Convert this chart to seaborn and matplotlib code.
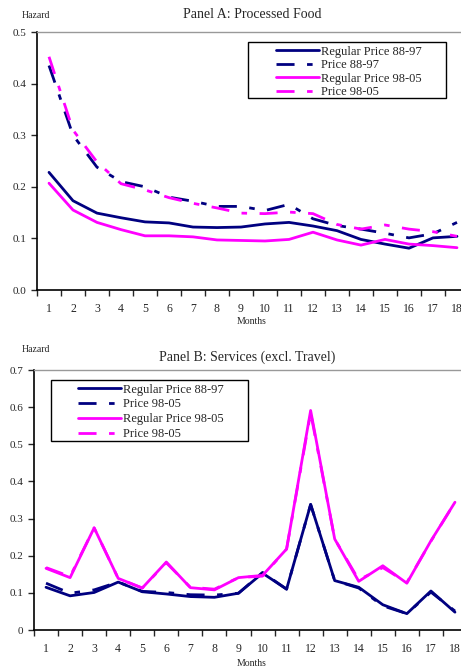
import numpy as np
import pandas as pd
import matplotlib
matplotlib.use("Agg")
import matplotlib.pyplot as plt
from matplotlib.patches import Rectangle
import seaborn as sns

months = list(range(1, 19))

# Panel A: Processed Food
a_reg_88 = [0.228, 0.173, 0.149, 0.140, 0.132, 0.130, 0.122, 0.121, 0.122,
            0.128, 0.131, 0.124, 0.115, 0.098, 0.089, 0.081, 0.101, 0.104]
a_price_88 = [0.435, 0.300, 0.238, 0.210, 0.200, 0.180, 0.172, 0.162, 0.162,
              0.154, 0.166, 0.138, 0.125, 0.118, 0.110, 0.101, 0.109, 0.131]
a_reg_98 = [0.207, 0.155, 0.131, 0.117, 0.105, 0.105, 0.103, 0.097, 0.096,
            0.095, 0.098, 0.112, 0.097, 0.087, 0.098, 0.089, 0.086, 0.082]
a_price_98 = [0.452, 0.310, 0.248, 0.206, 0.194, 0.179, 0.168, 0.159, 0.149,
              0.148, 0.151, 0.148, 0.127, 0.118, 0.126, 0.118, 0.113, 0.104]

# Panel B: Services (excl. Travel)
b_reg_88 = [0.115, 0.092, 0.101, 0.129, 0.103, 0.097, 0.090, 0.088, 0.099,
            0.153, 0.110, 0.338, 0.133, 0.115, 0.068, 0.044, 0.105, 0.048]
b_price_88 = [0.126, 0.099, 0.108, 0.129, 0.104, 0.101, 0.095, 0.094, 0.099,
              0.155, 0.110, 0.338, 0.133, 0.113, 0.065, 0.044, 0.102, 0.051]
b_reg_98 = [0.166, 0.141, 0.275, 0.139, 0.113, 0.183, 0.114, 0.108, 0.141,
            0.147, 0.218, 0.591, 0.245, 0.131, 0.173, 0.126, 0.240, 0.344]
b_price_98 = [0.168, 0.144, 0.275, 0.139, 0.113, 0.181, 0.115, 0.110, 0.141,
              0.145, 0.218, 0.585, 0.245, 0.135, 0.168, 0.128, 0.239, 0.344]

labels_a = ["Regular Price 88-97", "Price 88-97", "Regular Price 98-05", "Price 98-05"]
labels_b = ["Regular Price 88-97", "Price 98-05", "Regular Price 98-05", "Price 98-05"]

sns.set_style("white")
plt.rcParams['font.family'] = ['Liberation Serif', 'DejaVu Serif']

NAVY = "#000080"
MAG = "#FF00FF"
DASH = (6.5, 4.5, 2, 4.5)

fig = plt.figure(figsize=(4.61, 6.71), dpi=100)
W, H = 461, 671


def panel(rect, series, labels, ymax, yfmt, title, title_x, title_y,
          months_y, hazard_y, frame, leg_xy, leg_space):
    ax = fig.add_axes(rect)
    styles = [(NAVY, None), (NAVY, DASH), (MAG, None), (MAG, DASH)]
    for vals, lab, (c, d) in zip(series, labels, styles):
        df = pd.DataFrame({"month": months, "hazard": vals})
        sns.lineplot(data=df, x="month", y="hazard", ax=ax, color=c,
                     lw=2, label=lab, legend=False)
        if d is not None:
            ax.lines[-1].set_dashes(d)
    ax.set_xlim(0.5, 18.5)
    ax.set_ylim(0, ymax)
    ax.set_xticks(months)
    ax.set_xticklabels([str(m) for m in months], fontsize=8.5)
    ax.set_xticks(np.arange(0.5, 19, 1), minor=True)
    ax.tick_params(axis="x", which="major", length=0, pad=9)
    ax.tick_params(axis="x", which="minor", length=4, width=1, direction="out",
                   bottom=True)
    yt = np.arange(0, ymax + 1e-9, 0.1)
    ax.set_yticks(yt)
    ax.set_yticklabels([yfmt(v) for v in yt], fontsize=8)
    ax.tick_params(axis="y", length=4, width=1, direction="out", left=True)
    ax.set_xlabel("")
    ax.set_ylabel("")
    for s in ["left", "bottom"]:
        ax.spines[s].set_color("black")
        ax.spines[s].set_linewidth(1.2)
    ax.spines["top"].set_color("#999999")
    ax.spines["top"].set_linewidth(1)
    ax.spines["right"].set_visible(False)
    ax.grid(False)

    # legend text/handles without frame, frame drawn separately
    ax.legend(loc="upper left", bbox_to_anchor=(leg_xy[0] / W, 1 - leg_xy[1] / H),
              bbox_transform=fig.transFigure, fontsize=9, frameon=False,
              handlelength=3.45, handletextpad=0.15, borderpad=0,
              labelspacing=leg_space, borderaxespad=0)
    x0, y0, x1, y1 = frame
    fig.patches.append(Rectangle((x0 / W, 1 - y1 / H), (x1 - x0) / W,
                                 (y1 - y0) / H, transform=fig.transFigure,
                                 fill=False, edgecolor="black", lw=1,
                                 zorder=5))

    fig.text(title_x / W, 1 - title_y / H, title, ha="center", va="center",
             fontsize=10)
    fig.text(36 / W, 1 - hazard_y / H, "Hazard", ha="center", va="center",
             fontsize=7)
    fig.text(252 / W, 1 - months_y / H, "Months", ha="center", va="center",
             fontsize=7)
    return ax


panel([37 / W, 1 - 290 / H, 432 / W, 258 / H],
      [a_reg_88, a_price_88, a_reg_98, a_price_98], labels_a,
      0.5, lambda v: f"{v:.1f}", "Panel A: Processed Food", 252, 15,
      322, 15, (248, 42, 446, 98), (276, 45.5), 0.13)

panel([34 / W, 1 - 630 / H, 433 / W, 260 / H],
      [b_reg_88, b_price_88, b_reg_98, b_price_98], labels_b,
      0.7, lambda v: "0" if v == 0 else f"{v:.1f}",
      "Panel B: Services (excl. Travel)", 247, 357, 663, 350,
      (51, 380, 248, 441), (78, 383.5), 0.23)

fig.savefig("out.png", dpi=100)
